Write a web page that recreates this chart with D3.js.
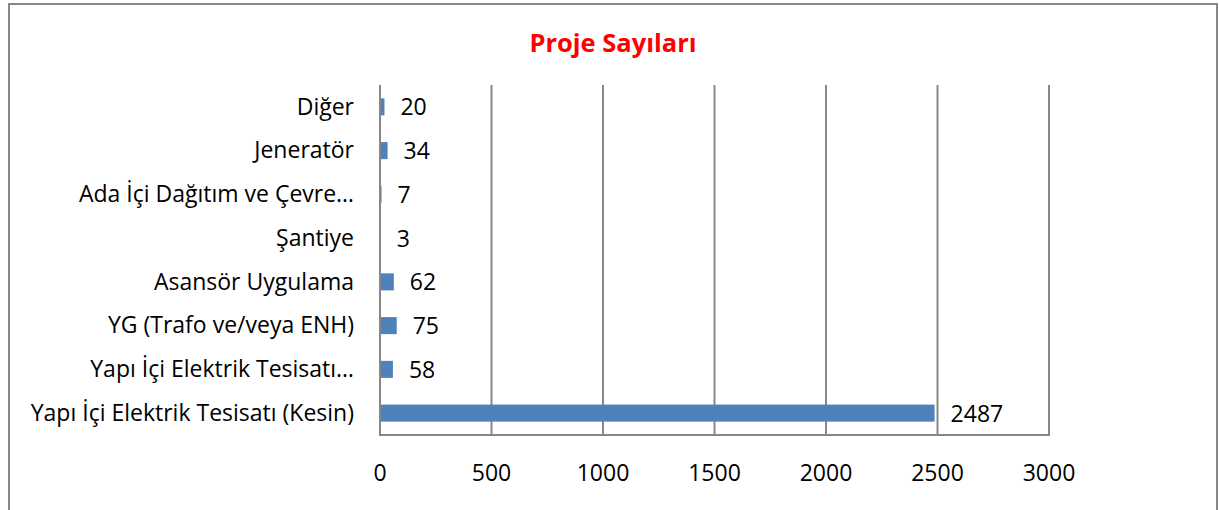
<!DOCTYPE html>
<html>
<head>
<meta charset="utf-8">
<script src="https://cdn.jsdelivr.net/npm/d3@7"></script>
<style>
  body { margin: 0; background: #fff; }
  text { font-family: "Open Sans", Lato, sans-serif; fill: #000; }
</style>
</head>
<body>
<script>
// chart data, top row first
var categories = [
  "Diğer",
  "Jeneratör",
  "Ada İçi Dağıtım ve Çevre…",
  "Şantiye",
  "Asansör Uygulama",
  "YG (Trafo ve/veya ENH)",
  "Yapı İçi Elektrik Tesisatı…",
  "Yapı İçi Elektrik Tesisatı (Kesin)"
];
var values = [20, 34, 7, 3, 62, 75, 58, 2487];
var xTicks = [0, 500, 1000, 1500, 2000, 2500, 3000];
var title = "Proje Sayıları";

var width = 1219, height = 510;
// plot box (window.top is reserved, so no "top" here)
var plotLeft = 380, plotRight = 1049, plotTop = 85, plotBottom = 435;

var svg = d3.select("body").append("svg")
    .attr("width", width)
    .attr("height", height);

// outer frame
svg.append("rect")
    .attr("x", 9).attr("y", 4)
    .attr("width", 1208).attr("height", 520)
    .attr("fill", "none")
    .attr("stroke", "#878787")
    .attr("stroke-width", 2);

var x = d3.scaleLinear().domain([0, 3000]).range([plotLeft, plotRight]);
var y = d3.scaleBand().domain(categories).range([plotTop, plotBottom]).paddingInner(0.61).paddingOuter(0.305);

// gridlines
svg.append("g").selectAll("line")
  .data(xTicks.slice(1))
  .enter().append("line")
    .attr("x1", function(d) { return x(d); })
    .attr("x2", function(d) { return x(d); })
    .attr("y1", plotTop).attr("y2", plotBottom)
    .attr("stroke", "#878787")
    .attr("stroke-width", 2);

// bars
svg.append("g").selectAll("rect")
  .data(values)
  .enter().append("rect")
    .attr("x", x(0))
    .attr("y", function(d, i) { return y(categories[i]); })
    .attr("width", function(d) { return x(d) - x(0); })
    .attr("height", y.bandwidth())
    .attr("fill", "#4f81bd");

// axis lines
svg.append("line")
    .attr("x1", x(0)).attr("x2", x(0))
    .attr("y1", plotTop).attr("y2", plotBottom + 1)
    .attr("stroke", "#878787").attr("stroke-width", 2);
svg.append("line")
    .attr("x1", x(0) - 1).attr("x2", plotRight + 1)
    .attr("y1", plotBottom).attr("y2", plotBottom)
    .attr("stroke", "#878787").attr("stroke-width", 2);

// value labels
svg.append("g").selectAll("text")
  .data(values)
  .enter().append("text")
    .attr("x", function(d) { return x(d) + 16; })
    .attr("y", function(d, i) { return y(categories[i]) + y.bandwidth() / 2; })
    .attr("dy", "0.37em")
    .attr("font-size", 23)
    .text(function(d) { return d; });

// category labels
svg.append("g").selectAll("text")
  .data(categories)
  .enter().append("text")
    .attr("x", 354)
    .attr("y", function(d) { return y(d) + y.bandwidth() / 2; })
    .attr("dy", "0.34em")
    .attr("text-anchor", "end")
    .attr("font-size", 23)
    .text(function(d) { return d; });

// x tick labels
svg.append("g").selectAll("text")
  .data(xTicks)
  .enter().append("text")
    .attr("x", function(d) { return x(d); })
    .attr("y", 481)
    .attr("text-anchor", "middle")
    .attr("font-size", 23)
    .text(function(d) { return d; });

svg.append("text")
    .attr("x", 613).attr("y", 52)
    .attr("text-anchor", "middle")
    .attr("font-size", 25.5)
    .attr("font-weight", "bold")
    .style("fill", "#ff0000")
    .text(title);
</script>
</body>
</html>
